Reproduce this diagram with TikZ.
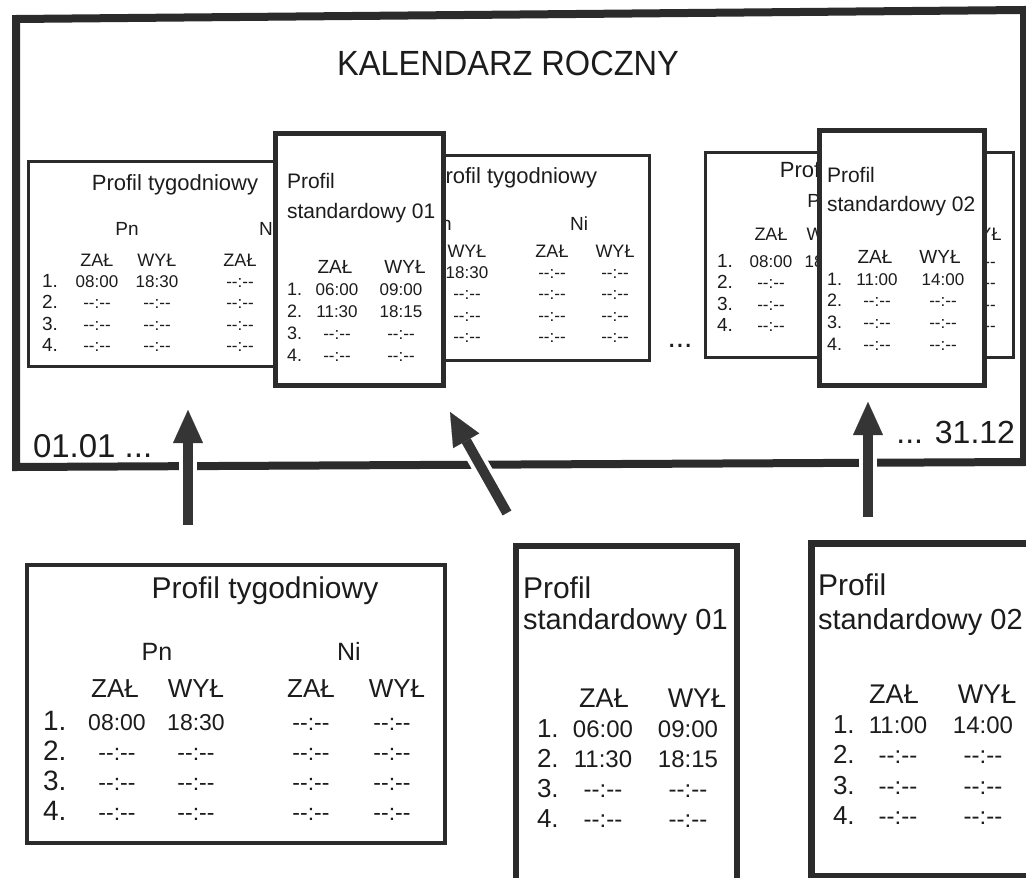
\documentclass[tikz,border=0pt]{standalone}
\usepackage{fontspec}
\usepackage{graphicx}
\setmainfont{Liberation Sans}
\usetikzlibrary{arrows.meta}
\definecolor{ink}{HTML}{1C1C1C}
\definecolor{lc}{HTML}{2B2B2B}
\definecolor{ac}{HTML}{353535}
\newcommand\fs[1]{\fontsize{#1}{#1}\selectfont}
\newcommand\emp{-\kern0pt-:-\kern0pt-}
\newcommand\rowsp{21.5}
\tikzset{
  tx/.style={inner sep=0pt, outer sep=0pt, text=ink},
  wbox/.style={draw=lc, line width=3pt, fill=white, inner sep=0pt, outer sep=0pt},
  sbox/.style={draw=lc, line width=5pt, fill=white, inner sep=0pt, outer sep=0pt},
  frame/.style={draw=lc, line width=8pt, line join=miter},
  bigarrow/.style={draw=ac, line width=10pt, -{Triangle[width=30pt,length=33pt,line width=0.1pt]}},
  gap/.style={draw=white, line width=18pt, shorten >=33pt}
}
% weekly profile frame + title (calendar size)
\newcommand\wkbox[5]{%
  \node[wbox, anchor=north west, minimum width=308pt, minimum height=205pt] (#1) at (#2,#3) {};
  \node[tx, font=\fs{22}, anchor=base] (#1-t) at (#4,#5) {Profil tygodniowy};
}
% one column: label + times; #7 = number of rows drawn
\newcommand\wkcol[7]{%
  \node[tx, font=\fs{18}, anchor=base] (#1-l) at (#2,#3) {#5};
  \foreach \tv [count=\k] in {#6,\emp,\emp,\emp} {
    \ifnum\k>#7\relax\else
      \node[tx, font=\fs{17}, anchor=base] (#1-r\k) at (#2,{#4+\rowsp*(\k-1)}) {\tv};
    \fi
  }
}
% row numbers
\newcommand\wknums[3]{%
  \foreach \nr [count=\k] in {1.,2.,3.,4.}
    \node[tx, font=\fs{19}, anchor=base west] (#1-n\k) at (#2,{#3+\rowsp*(\k-1)}) {\nr};
}
\begin{document}
\begin{tikzpicture}[x=1pt,y=-1pt]
\useasboundingbox (0,0) rectangle (1026,878);
\clip (0,0) rectangle (1026,878);
\fill[white] (0,0) rectangle (1026,878);

% ---------------- calendar frame ----------------
\draw[frame] (16,19) -- (1024,10) -- (1024,462) -- (16,467) -- cycle;
\node[tx, font=\fs{35}, anchor=base] (title) at (508,75) {\scalebox{0.93}[1]{KALENDARZ ROCZNY}};
\node[tx, font=\fs{33}, anchor=base west] (d1) at (33,457) {01.01 ...};
\node[tx, font=\fs{32}, anchor=base east] (d2) at (1015,443) {... 31.12};
\node[tx, font=\fs{30}, anchor=base] (dots) at (680,347) {...};

% weekly profile A
\wkbox{wA}{28}{161}{175}{190}
\node[tx, font=\fs{19}, anchor=base] (wA-pn) at (127,235) {Pn};
\node[tx, font=\fs{19}, anchor=base] (wA-ni) at (268,235) {Ni};
\wknums{wA}{42}{287}
\wkcol{wA1}{97}{266}{287}{ZAŁ}{08:00}{4}
\wkcol{wA2}{157}{266}{287}{WYŁ}{18:30}{4}
\wkcol{wA3}{240}{266}{287}{ZAŁ}{\emp}{4}

% weekly profile C
\wkbox{wC}{341}{155}{514}{183}
\node[tx, font=\fs{19}, anchor=base] (wC-pn) at (440,230) {Pn};
\node[tx, font=\fs{19}, anchor=base] (wC-ni) at (579,230) {Ni};
\wkcol{wC2}{467}{257}{278}{WYŁ}{18:30}{4}
\wkcol{wC3}{552}{257}{278}{ZAŁ}{\emp}{4}
\wkcol{wC4}{615}{257}{278}{WYŁ}{\emp}{4}

% standard profile 01 in the calendar
\node[sbox, anchor=north west, minimum width=168pt, minimum height=252pt] (sB) at (275,133) {};
\node[tx, font=\fs{21}, anchor=base west] (sB-t1) at (287,188) {Profil};
\node[tx, font=\fs{21}, anchor=base west] (sB-t2) at (287,218) {standardowy 01};
\node[tx, font=\fs{19}, anchor=base] (sB-l1) at (335,273) {ZAŁ};
\node[tx, font=\fs{19}, anchor=base] (sB-l2) at (405,273) {WYŁ};
\foreach \nr/\ta/\tb [count=\k] in {1./06:00/09:00,2./11:30/18:15,3./\emp/\emp,4./\emp/\emp} {
  \node[tx, font=\fs{18}, anchor=base west] (sB-n\k) at (287,{295+22*(\k-1)}) {\nr};
  \node[tx, font=\fs{17}, anchor=base] (sB-a\k) at (337,{295+22*(\k-1)}) {\ta};
  \node[tx, font=\fs{17}, anchor=base] (sB-b\k) at (401,{295+22*(\k-1)}) {\tb};
}

% weekly profile D
\wkbox{wD}{705}{152}{863}{177}
\node[tx, font=\fs{19}, anchor=base] (wD-pn) at (819,207) {Pn};
\wknums{wD}{717}{267}
\wkcol{wD1}{771}{240}{267}{ZAŁ}{08:00}{4}
\wkcol{wD2}{826}{240}{267}{WYŁ}{18:30}{1}
\wkcol{wD4}{982}{240}{267}{WYŁ}{\emp}{4}

% standard profile 02 in the calendar
\node[sbox, anchor=north west, minimum width=165pt, minimum height=255pt] (sE) at (819,130) {};
\node[tx, font=\fs{21}, anchor=base west] (sE-t1) at (827,182) {Profil};
\node[tx, font=\fs{21}, anchor=base west] (sE-t2) at (827,211) {standardowy 02};
\node[tx, font=\fs{19}, anchor=base] (sE-l1) at (875,263) {ZAŁ};
\node[tx, font=\fs{19}, anchor=base] (sE-l2) at (940,263) {WYŁ};
\foreach \nr/\ta/\tb [count=\k] in {1./11:00/14:00,2./\emp/\emp,3./\emp/\emp,4./\emp/\emp} {
  \node[tx, font=\fs{18}, anchor=base west] (sE-n\k) at (827,{285+21.7*(\k-1)}) {\nr};
  \node[tx, font=\fs{17}, anchor=base] (sE-a\k) at (877,{285+21.7*(\k-1)}) {\ta};
  \node[tx, font=\fs{17}, anchor=base] (sE-b\k) at (943,{285+21.7*(\k-1)}) {\tb};
}

% ---------------- arrows ----------------
\coordinate (s1) at (188,525); \coordinate (e1) at (188,410);
\coordinate (s2) at (507,513); \coordinate (e2) at (450,412);
\coordinate (s3) at (868,517); \coordinate (e3) at (868,402);
\foreach \i in {1,2,3} {
  \draw[gap] (s\i) -- (e\i);
  \draw[bigarrow] (s\i) -- (e\i);
}

% ---------------- bottom: weekly profile ----------------
\node[wbox, line width=4pt, anchor=north west, minimum width=418pt, minimum height=278pt] (F) at (27,565) {};
\node[tx, font=\fs{30}, anchor=base] (F-t) at (265,598) {Profil tygodniowy};
\node[tx, font=\fs{25}, anchor=base] (F-pn) at (157,660) {Pn};
\node[tx, font=\fs{25}, anchor=base] (F-ni) at (349,660) {Ni};
\foreach \cx/\lab [count=\k] in {115/ZAŁ,196/WYŁ,311/ZAŁ,397/WYŁ}
  \node[tx, font=\fs{26}, anchor=base] (F-l\k) at (\cx,697) {\lab};
\foreach \nr/\ta/\tb [count=\k] in {1./08:00/18:30,2./\emp/\emp,3./\emp/\emp,4./\emp/\emp} {
  \node[tx, font=\fs{28}, anchor=base west] (F-n\k) at (43,{730+30*(\k-1)}) {\nr};
  \node[tx, font=\fs{23}, anchor=base] (F-a\k) at (117,{730+30*(\k-1)}) {\ta};
  \node[tx, font=\fs{23}, anchor=base] (F-b\k) at (196,{730+30*(\k-1)}) {\tb};
  \node[tx, font=\fs{23}, anchor=base] (F-c\k) at (311,{730+30*(\k-1)}) {\emp};
  \node[tx, font=\fs{23}, anchor=base] (F-d\k) at (392,{730+30*(\k-1)}) {\emp};
}

% ---------------- bottom: standard profile 01 ----------------
\node[sbox, line width=6pt, anchor=north west, minimum width=221pt, minimum height=400pt] (G) at (516,546) {};
\node[tx, font=\fs{30}, anchor=base west] (G-t1) at (523,598) {Profil};
\node[tx, font=\fs{29}, anchor=base west] (G-t2) at (523,629) {standardowy 01};
\node[tx, font=\fs{27}, anchor=base] (G-l1) at (604,707) {ZAŁ};
\node[tx, font=\fs{27}, anchor=base] (G-l2) at (697,707) {WYŁ};
\foreach \nr/\ta/\tb [count=\k] in {1./06:00/09:00,2./11:30/18:15,3./\emp/\emp,4./\emp/\emp} {
  \node[tx, font=\fs{26}, anchor=base west] (G-n\k) at (537,{737+30*(\k-1)}) {\nr};
  \node[tx, font=\fs{24}, anchor=base] (G-a\k) at (603,{737+30*(\k-1)}) {\ta};
  \node[tx, font=\fs{24}, anchor=base] (G-b\k) at (688,{737+30*(\k-1)}) {\tb};
}

% ---------------- bottom: standard profile 02 ----------------
\node[sbox, line width=7pt, anchor=north west, minimum width=250pt, minimum height=333pt] (H) at (811,543) {};
\node[tx, font=\fs{30}, anchor=base west] (H-t1) at (818,595) {Profil};
\node[tx, font=\fs{29}, anchor=base west] (H-t2) at (818,629) {standardowy 02};
\node[tx, font=\fs{27}, anchor=base] (H-l1) at (894,703) {ZAŁ};
\node[tx, font=\fs{27}, anchor=base] (H-l2) at (987,703) {WYŁ};
\foreach \nr/\ta/\tb [count=\k] in {1./11:00/14:00,2./\emp/\emp,3./\emp/\emp,4./\emp/\emp} {
  \node[tx, font=\fs{26}, anchor=base west] (H-n\k) at (833,{733+30.5*(\k-1)}) {\nr};
  \node[tx, font=\fs{24}, anchor=base] (H-a\k) at (898,{733+30.5*(\k-1)}) {\ta};
  \node[tx, font=\fs{24}, anchor=base] (H-b\k) at (983,{733+30.5*(\k-1)}) {\tb};
}
\end{tikzpicture}
\end{document}
